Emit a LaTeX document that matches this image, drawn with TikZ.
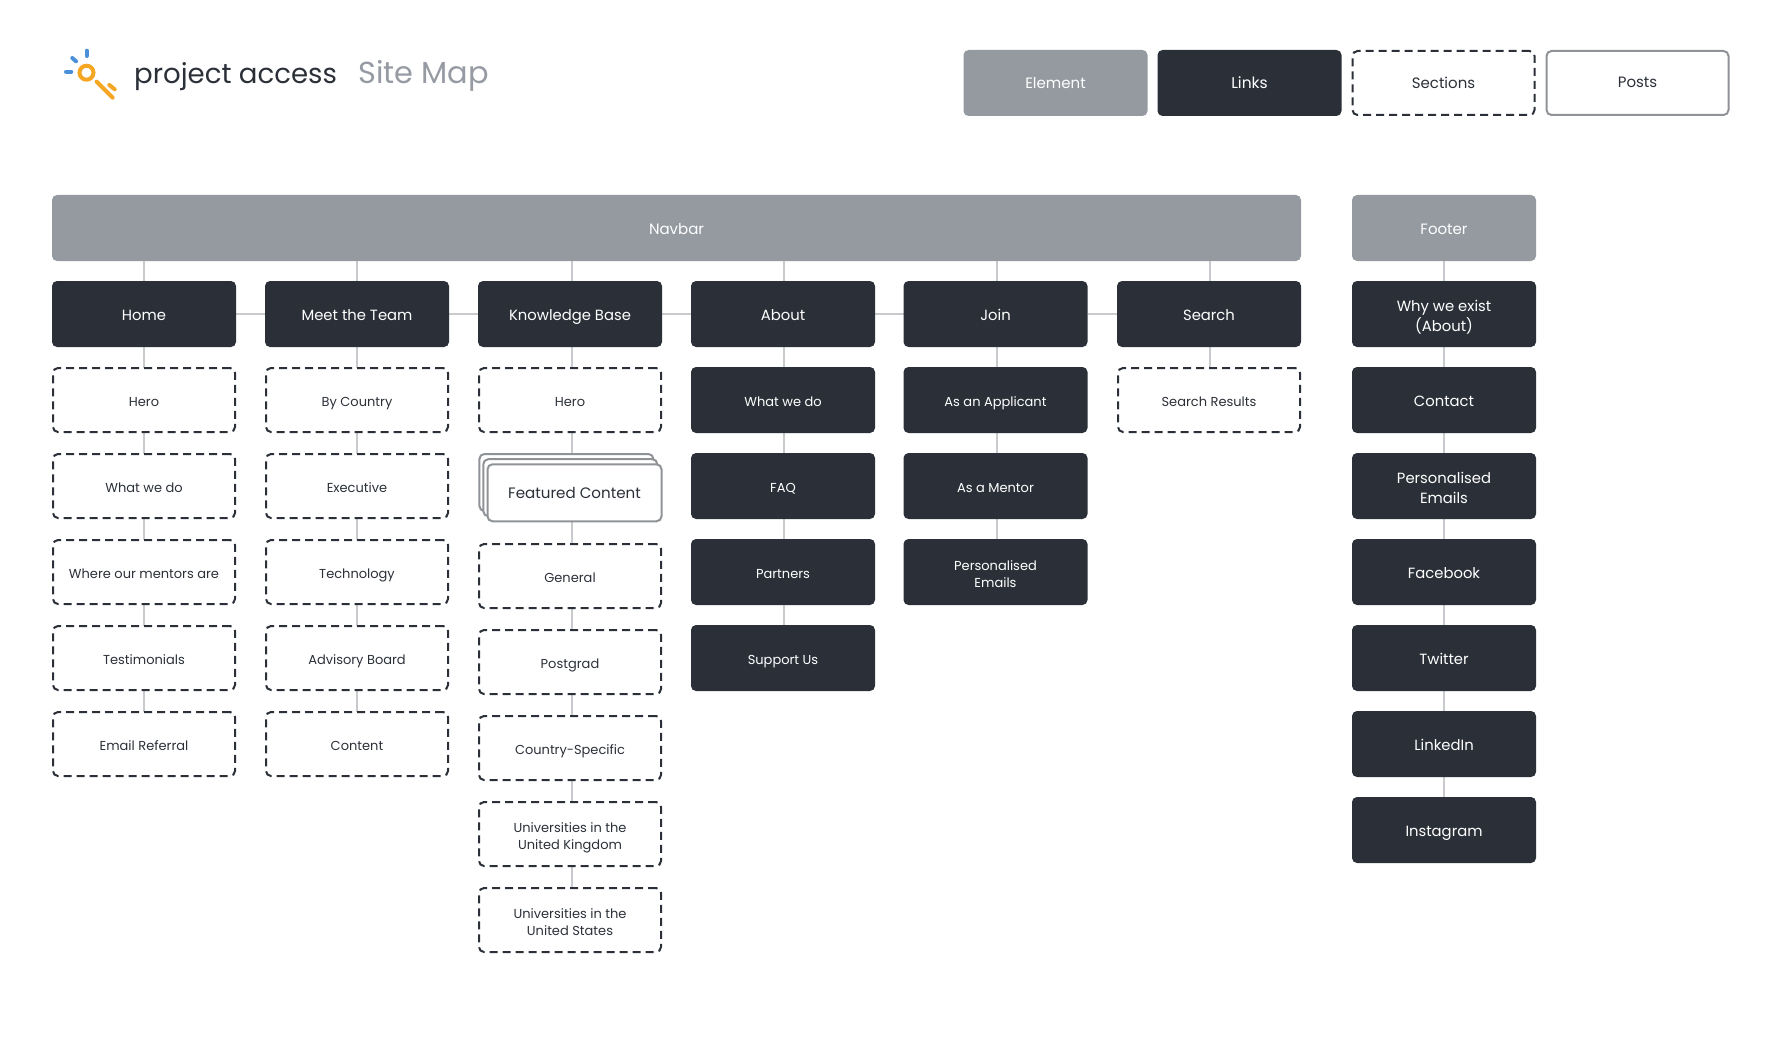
\documentclass[tikz,border=0pt]{standalone}
\usepackage{fontspec}
\setmainfont{Poppins}
\usetikzlibrary{backgrounds}
\definecolor{ink}{HTML}{2B3038}
\definecolor{slate}{HTML}{959AA1}
\definecolor{wire}{HTML}{C8CACD}
\definecolor{frameg}{HTML}{8F9296}
\definecolor{lightt}{HTML}{969AA3}
\definecolor{orangeL}{HTML}{F5A623}
\definecolor{blueL}{HTML}{4A90D9}
\newcommand\firstlinedrop[1]{\rule{0pt}{#1}}
\tikzset{
  x=1pt,y=-1pt,
  lowertext/.style={execute at begin node={\rule{0pt}{16pt}},execute at end node={\rule[-4pt]{0pt}{8pt}}},
  boxbase/.style={rounded corners=5pt,minimum width=184pt,minimum height=66pt,inner sep=0pt,outer sep=0pt,align=center,lowertext},
  elembox/.style={boxbase,fill=slate,text=white,font=\fontsize{15}{18}\selectfont},
  linkbig/.style={boxbase,fill=ink,text=white,font=\fontsize{14.8}{20}\selectfont},
  linksmall/.style={boxbase,fill=ink,text=white,font=\fontsize{13}{17}\selectfont},
  sectbox/.style={boxbase,minimum width=182pt,minimum height=64pt,draw=ink,line width=2pt,dash pattern=on 8pt off 5pt,text=ink,font=\fontsize{13}{17}\selectfont},
  postbox/.style={boxbase,minimum width=182pt,minimum height=64pt,draw=frameg,line width=2pt,fill=white,text=ink,font=\fontsize{15}{18}\selectfont},
  stackbox/.style={rounded corners=5pt,minimum width=174pt,minimum height=57pt,inner sep=0pt,outer sep=0pt,draw=frameg,line width=2pt,fill=white,text=ink,font=\fontsize{15.1}{19}\selectfont},
  wirel/.style={draw=wire,line width=2pt},
  logoO/.style={draw=orangeL,line width=4pt,line cap=round},
  logoB/.style={draw=blueL,line width=4pt,line cap=round},
}
\begin{document}
\begin{tikzpicture}
\useasboundingbox (0,0) rectangle (1780,1043);
% logo
\draw[logoO] (86.5,72.7) circle (7);
\draw[logoO] (96.7,81.7) -- (112.7,97.7);
\draw[logoO] (109.3,85) -- (114.7,89.3);
\draw[logoB] (86.7,50.7) -- (86.7,56);
\draw[logoB] (72.3,58) -- (76,61.3);
\draw[logoB] (66,71.7) -- (71.3,71.7);
\node[anchor=base west,inner sep=0pt,text=ink,font=\fontsize{27.6}{30}\selectfont] (brand) at (134,84) {project access};
\node[anchor=base west,inner sep=0pt,text=lightt,font=\fontsize{30.4}{33}\selectfont] (sitemap) at (358,84) {Site Map};
% legend
\node[elembox] (lgE) at (1055.5,83) {Element};
\node[linkbig,font=\fontsize{15.5}{18}\selectfont] (lgL) at (1249.5,83) {Links};
\node[sectbox,font=\fontsize{15}{18}\selectfont] (lgS) at (1443.5,83) {Sections};
\node[postbox] (lgP) at (1637.5,83) {\raisebox{1pt}{Posts}};
% top bars
\node[elembox,minimum width=1249pt] (navbar) at (676.5,228) {Navbar};
\node[elembox] (footer) at (1444,228) {Footer};
% top links
\node[linkbig] (home) at (144,314) {Home};
\node[linkbig] (team) at (357,314) {Meet the Team};
\node[linkbig] (kb) at (570,314) {Knowledge Base};
\node[linkbig] (about) at (783,314) {About};
\node[linkbig] (join) at (995.5,314) {Join};
\node[linkbig] (search) at (1209,314) {Search};
% col 1
\node[sectbox] (h1) at (144,400) {Hero};
\node[sectbox] (h2) at (144,486) {What we do};
\node[sectbox] (h3) at (144,572) {Where our mentors are};
\node[sectbox] (h4) at (144,658) {Testimonials};
\node[sectbox] (h5) at (144,744) {Email Referral};
% col 2
\node[sectbox] (t1) at (357,400) {By Country};
\node[sectbox] (t2) at (357,486) {Executive};
\node[sectbox] (t3) at (357,572) {Technology};
\node[sectbox] (t4) at (357,658) {Advisory Board};
\node[sectbox] (t5) at (357,744) {Content};
% col 3
\node[sectbox] (k1) at (570,400) {Hero};
\node[stackbox] (fcA) at (566.4,482.5) {};
\node[stackbox] (fcB) at (570.3,487.7) {};
\node[stackbox,lowertext] (fcC) at (574.5,492.8) {Featured Content};
\node[sectbox] (k2) at (570,576) {General};
\node[sectbox] (k3) at (570,662) {Postgrad};
\node[sectbox] (k4) at (570,748) {Country-Specific};
\node[sectbox] (k5) at (570,834) {\firstlinedrop{18pt}Universities in the\\United Kingdom};
\node[sectbox] (k6) at (570,920) {\firstlinedrop{18pt}Universities in the\\United States};
% col 4
\node[linksmall] (a1) at (783,400) {What we do};
\node[linksmall] (a2) at (783,486) {FAQ};
\node[linksmall] (a3) at (783,572) {Partners};
\node[linksmall] (a4) at (783,658) {Support Us};
% col 5
\node[linksmall] (j1) at (995.5,400) {As an Applicant};
\node[linksmall] (j2) at (995.5,486) {As a Mentor};
\node[linksmall] (j3) at (995.5,572) {\firstlinedrop{18.5pt}Personalised\\Emails};
% col 6
\node[sectbox] (s1) at (1209,400) {Search Results};
% footer
\node[linkbig] (f1) at (1444,314) {\firstlinedrop{19.5pt}Why we exist\\(About)};
\node[linkbig] (f2) at (1444,400) {Contact};
\node[linkbig] (f3) at (1444,486) {\firstlinedrop{19.5pt}Personalised\\Emails};
\node[linkbig] (f4) at (1444,572) {Facebook};
\node[linkbig] (f5) at (1444,658) {Twitter};
\node[linkbig] (f6) at (1444,744) {LinkedIn};
\node[linkbig] (f7) at (1444,830) {Instagram};
% connectors
\begin{scope}[on background layer]
\foreach \a/\b in {home/team,team/kb,kb/about,about/join,join/search}
  \draw[wirel] (\a.east) -- (\b.west);
\draw[wirel] (navbar.south -| home.north) -- (home.north);
\draw[wirel] (navbar.south -| team.north) -- (team.north);
\draw[wirel] ([xshift=2pt]kb.north |- navbar.south) -- ([xshift=2pt]kb.north);
\draw[wirel] ([xshift=1pt]about.north |- navbar.south) -- ([xshift=1pt]about.north);
\draw[wirel] ([xshift=1pt]join.north |- navbar.south) -- ([xshift=1pt]join.north);
\draw[wirel] ([xshift=1pt]search.north |- navbar.south) -- ([xshift=1pt]search.north);
\foreach \a/\b in {home/h1,h1/h2,h2/h3,h3/h4,h4/h5,team/t1,t1/t2,t2/t3,t3/t4,t4/t5,footer/f1,f1/f2,f2/f3,f3/f4,f4/f5,f5/f6,f6/f7}
  \draw[wirel] (\a.south) -- (\b.north);
\foreach \a/\b in {kb/k1,k2/k3,k3/k4,k4/k5,k5/k6}
  \draw[wirel] ([xshift=2pt]\a.south) -- ([xshift=2pt]\b.north);
\draw[wirel] ([xshift=2pt]k1.south) -- ([xshift=2pt]k1.south |- fcA.north);
\draw[wirel] ([xshift=2pt]k2.north |- fcC.south) -- ([xshift=2pt]k2.north);
\foreach \a/\b in {about/a1,a1/a2,a2/a3,a3/a4,join/j1,j1/j2,j2/j3,search/s1}
  \draw[wirel] ([xshift=1pt]\a.south) -- ([xshift=1pt]\b.north);
\end{scope}
\end{tikzpicture}
\end{document}
